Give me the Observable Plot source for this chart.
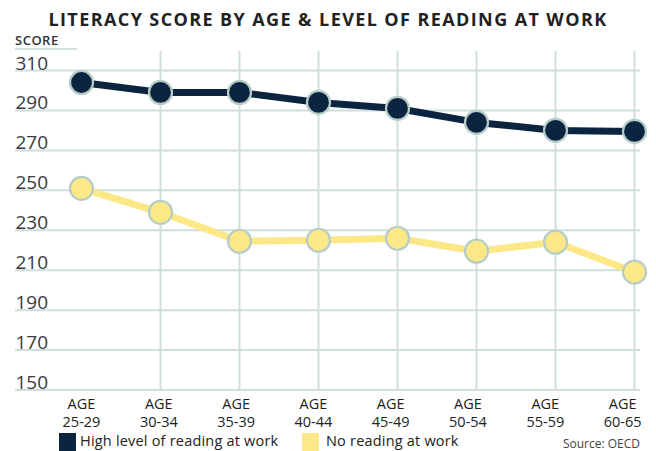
<!DOCTYPE html>
<html>
<head>
<meta charset="utf-8">
<script src="https://cdn.jsdelivr.net/npm/d3@7"></script>
<script src="https://cdn.jsdelivr.net/npm/@observablehq/plot@0.6"></script>
<style>
  html, body { margin: 0; padding: 0; background: #fff; }
  body { width: 656px; height: 451px; overflow: hidden; font-family: "Open Sans", "Noto Sans", sans-serif; position: relative; }
  #title { position: absolute; left: 0; top: 7px; width: 656px; text-align: center; font-size: 18px; font-weight: 700; color: #222; letter-spacing: 1.4px; }
  #score { position: absolute; left: 15px; top: 33px; width: 62px; font-size: 13px; font-weight: 600; color: #333; border-bottom: 2px solid #d3e2de; line-height: 15px; letter-spacing: 0.5px; }
  #chart { position: absolute; left: 0; top: 51px; }
  #chart svg { overflow: visible; }
  #legend { position: absolute; left: 0; top: 433px; width: 656px; height: 18px; font-size: 14.5px; color: #222; letter-spacing: 0.2px; }
  .sw { position: absolute; top: 0; width: 17px; height: 18px; }
  .lt { position: absolute; top: -1px; line-height: 18px; }
  #source { position: absolute; right: 16px; top: 437px; font-size: 12px; line-height: 14px; color: #444; }
</style>
</head>
<body>
<div id="title">LITERACY SCORE BY AGE &amp; LEVEL OF READING AT WORK</div>
<div id="score">SCORE</div>
<div id="chart"></div>
<div id="legend"></div>
<div id="source">Source: OECD</div>
<script>
const ages = ["25-29", "30-34", "35-39", "40-44", "45-49", "50-54", "55-59", "60-65"];
const highReading = [304, 299, 299, 294, 291, 284, 280, 279.5];
const noReading = [251, 239, 224.5, 225, 226, 219.5, 224, 209];
const yTicks = [150, 170, 190, 210, 230, 250, 270, 290, 310];
const seriesNames = ["High level of reading at work", "No reading at work"];
const colors = ["#0b2440", "#fde887"];

const rows = [];
ages.forEach((a, i) => {
  rows.push({age: a, score: noReading[i], series: seriesNames[1]});
});
ages.forEach((a, i) => {
  rows.push({age: a, score: highReading[i], series: seriesNames[0]});
});

const gridColor = "#cfdfdb";
const labelMarks = ages.map((a, i) =>
  Plot.text([a], {x: d => d, text: d => "AGE\n" + d, frameAnchor: "bottom", lineAnchor: "top", dy: 7, dx: -1.7 * i, fontSize: 14.5, lineHeight: 1.2, fill: "#222"})
);

const chart = Plot.plot({
  width: 656,
  height: 377,
  marginLeft: 15,
  marginRight: 16,
  marginTop: 19,
  marginBottom: 38.5,
  style: {fontFamily: "'Open Sans', 'Noto Sans', sans-serif", background: "transparent", overflow: "visible"},
  x: {type: "point", domain: ages, range: [78, 636], padding: 0, axis: null},
  y: {domain: [150, 310], range: [338.5, 19], axis: null},
  color: {domain: seriesNames, range: colors},
  marks: [
    Plot.ruleY(yTicks, {stroke: gridColor, strokeWidth: 2}),
    Plot.ruleX(ages.slice(1), {x: d => d, y1: 150, y2: 319.5, stroke: gridColor, strokeWidth: 2}),
    Plot.text(yTicks, {y: d => d, text: d => String(d), frameAnchor: "left", textAnchor: "start", lineAnchor: "bottom", dy: -1, fontSize: 19, fill: "#3a3a3a", style: "letter-spacing:0.5px"}),
    ...labelMarks,
    Plot.line(rows, {x: "age", y: "score", z: "series", stroke: "series", strokeWidth: 7}),
    Plot.dot(rows, {x: "age", y: "score", fill: "series", r: 11.5, stroke: "#b6cdc7", strokeWidth: 2.2})
  ]
});
document.getElementById("chart").appendChild(chart);

const legend = document.getElementById("legend");
const legendPos = [[59, 80], [302, 326]];
seriesNames.forEach((name, i) => {
  const sw = document.createElement("div");
  sw.className = "sw";
  sw.style.left = legendPos[i][0] + "px";
  sw.style.background = colors[i];
  legend.appendChild(sw);
  const t = document.createElement("div");
  t.className = "lt";
  t.style.left = legendPos[i][1] + "px";
  t.textContent = name;
  legend.appendChild(t);
});
</script>
</body>
</html>
